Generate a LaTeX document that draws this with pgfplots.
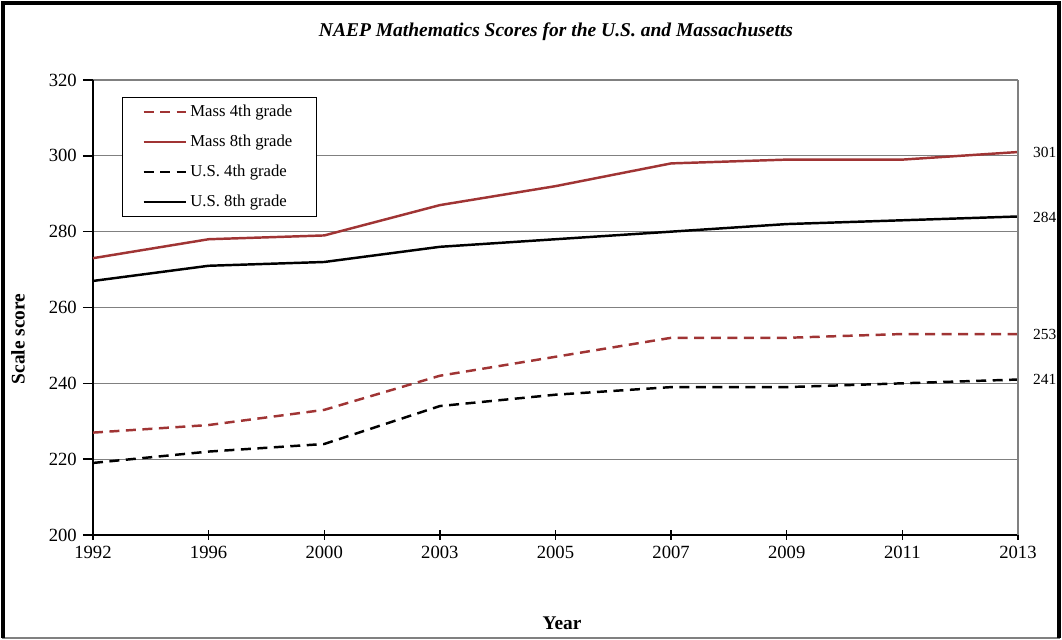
\documentclass[border=0pt]{standalone}
\usepackage{pgfplots}
\pgfplotsset{compat=1.18}
\usepackage{fontspec}
\setmainfont{Liberation Serif}
\definecolor{massred}{RGB}{160,52,52}
\definecolor{gridgray}{RGB}{128,128,128}

\begin{document}
\begin{tikzpicture}
% outer frame (1px = 0.02cm)
\draw[gridgray, line width=0.6pt] (0.04cm,0.04cm) -- (21.2cm,0.04cm);
\draw[black, line width=1.8pt] (0.06cm,0.04cm) -- (0.06cm,12.74cm) -- (21.18cm,12.74cm) -- (21.18cm,0.04cm);

\begin{axis}[
    at={(1.86cm,2.10cm)}, anchor=south west,
    scale only axis,
    width=18.5cm, height=9.1cm,
    xmin=0, xmax=8, ymin=200, ymax=320,
    xtick={0,...,8},
    xticklabels={1992,1996,2000,2003,2005,2007,2009,2011,2013},
    ytick={200,220,...,320},
    axis x line*=bottom, axis y line*=left,
    axis line style={line width=1.4pt},
    tick style={black, line width=0.8pt},
    major tick length=0.2cm,
    xtick align=center, ytick align=outside,
    ymajorgrids, grid style={gridgray, line width=0.6pt},
    tick label style={font=\fontsize{10.6}{12}\selectfont},
    /pgf/number format/assume math mode=true,
    legend style={at={(0.031,0.963)}, anchor=north west, draw=black, line width=0.6pt,
        font=\fontsize{9.5}{11}\selectfont, row sep=5pt, inner xsep=11.5pt, inner ysep=2.2pt,
        cells={anchor=west}},
    legend image code/.code={\draw[#1] (0cm,0cm) -- (0.84cm,0cm);},
    every axis plot/.append style={line width=1.4pt},
    clip=false,
]
\addplot[massred, dash pattern=on 0.2cm off 0.13cm] coordinates {
    (0,227) (1,229) (2,233) (3,242) (4,247) (5,252) (6,252) (7,253) (8,253)
};
\addplot[massred] coordinates {
    (0,273) (1,278) (2,279) (3,287) (4,292) (5,298) (6,299) (7,299) (8,301)
};
\addplot[black, dash pattern=on 0.2cm off 0.13cm] coordinates {
    (0,219) (1,222) (2,224) (3,234) (4,237) (5,239) (6,239) (7,240) (8,241)
};
\addplot[black] coordinates {
    (0,267) (1,271) (2,272) (3,276) (4,278) (5,280) (6,282) (7,283) (8,284)
};
\legend{Mass 4th grade, Mass 8th grade, U.S. 4th grade, U.S. 8th grade}

% right-hand border of the plot area
\draw[gridgray, line width=0.6pt] (rel axis cs:1,0) -- (rel axis cs:1,1);

% end values
\node[anchor=west, font=\fontsize{8.8}{10}\selectfont, xshift=0.18cm] at (axis cs:8,300.8) {301};
\node[anchor=west, font=\fontsize{8.8}{10}\selectfont, xshift=0.18cm] at (axis cs:8,283.8) {284};
\node[anchor=west, font=\fontsize{8.8}{10}\selectfont, xshift=0.18cm] at (axis cs:8,253) {253};
\node[anchor=west, font=\fontsize{8.8}{10}\selectfont, xshift=0.18cm] at (axis cs:8,241) {241};
\end{axis}

\node[font=\fontsize{11.1}{13}\selectfont\bfseries\itshape] at (11.12cm,12.16cm)
    {NAEP Mathematics Scores for the U.S. and Massachusetts};
\node[font=\fontsize{11}{13}\selectfont\bfseries, rotate=90] at (0.36cm,6.02cm) {Scale score};
\node[font=\fontsize{11}{13}\selectfont\bfseries] at (11.24cm,0.34cm) {Year};

\pgfresetboundingbox
\useasboundingbox (0,0) rectangle (21.24cm,12.8cm);
\end{tikzpicture}
\end{document}
